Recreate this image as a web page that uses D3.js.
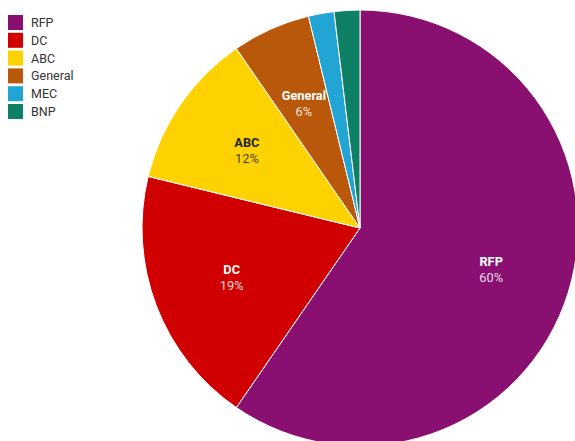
<!DOCTYPE html>
<html><head><meta charset="utf-8">
<script src="https://cdn.jsdelivr.net/npm/d3@7"></script>
<style>html,body{margin:0;padding:0;background:#fff;overflow:hidden}</style>
</head><body>
<svg id="c" width="575" height="441"></svg>
<script>
const categories = ["RFP", "DC", "ABC", "General", "MEC", "BNP"];
const values = [59.6, 19.2, 11.6, 5.8, 1.9, 1.9];
const colors = ["#891070", "#d10000", "#fdd200", "#b9580a", "#22a5d5", "#0e8066"];
const labelColors = ["#ffffff", "#ffffff", "#222222", "#ffffff", "#ffffff", "#ffffff"];

const svg = d3.select("#c");
const cx = 360, cy = 228, r = 218;
const data = categories.map((c, i) => ({name: c, value: values[i], color: colors[i], lc: labelColors[i]}));
const total = d3.sum(values);
const pie = d3.pie().value(d => d.value).sort(null);
const arcs = pie(data);
const arc = d3.arc().innerRadius(0).outerRadius(r);
const labelArc = d3.arc().innerRadius(r * 0.63).outerRadius(r * 0.63);

const g = svg.append("g").attr("transform", `translate(${cx},${cy})`);
g.selectAll("path").data(arcs).join("path")
  .attr("d", arc).attr("fill", d => d.data.color)
  .attr("stroke", "#fff").attr("stroke-width", 1);

const lab = g.selectAll("g.lab").data(arcs.filter(d => d.data.value / total >= 0.05)).join("g")
  .attr("class", "lab")
  .attr("transform", d => `translate(${labelArc.centroid(d)})`)
  .attr("font-family", "Roboto, sans-serif").attr("font-size", 12.8).attr("text-anchor", "middle");
lab.append("text").attr("y", -3).attr("font-weight", "bold").attr("fill", d => d.data.lc)
  .text(d => d.data.name);
lab.append("text").attr("y", 13).attr("fill", d => d.data.lc).attr("fill-opacity", 0.85)
  .text(d => Math.round(d.data.value / total * 100) + "%");

const leg = svg.append("g").attr("font-family", "Roboto, sans-serif").attr("font-size", 12.5);
const items = leg.selectAll("g").data(data).join("g")
  .attr("transform", (d, i) => `translate(8,${15 + i * 17.8})`);
items.append("rect").attr("width", 15).attr("height", 15).attr("fill", d => d.color);
items.append("text").attr("x", 23).attr("y", 12).attr("fill", "#333").text(d => d.name);
</script>
</body></html>
